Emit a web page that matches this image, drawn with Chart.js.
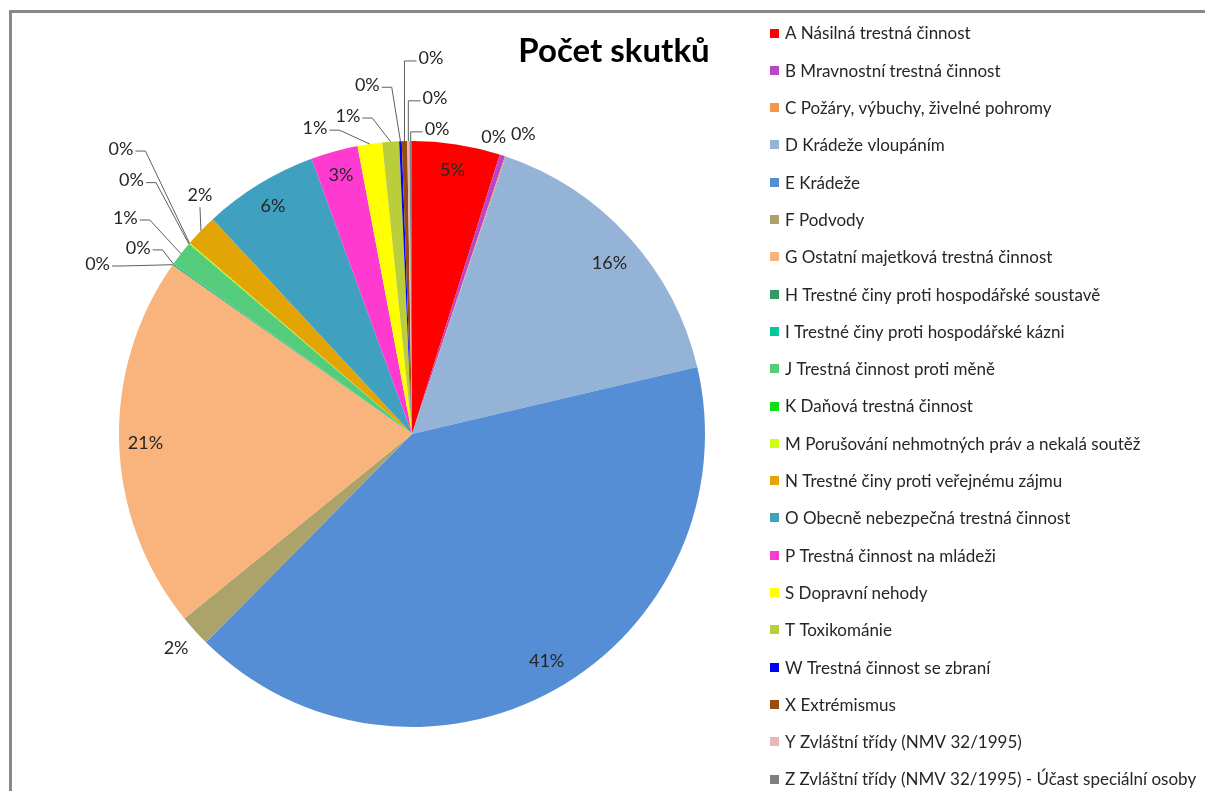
<!DOCTYPE html>
<html lang="cs">
<head>
  <meta charset="UTF-8">
  <title>Počet skutků</title>
  <style>
    html, body {
      margin: 0;
      padding: 0;
      background: #fff;
      overflow: hidden;
    }
    canvas {
      display: block;
    }
  </style>
</head>
<body>
  <canvas id="pie" width="1205" height="791"></canvas>

  <script src="https://cdn.jsdelivr.net/npm/chart.js"></script>
  <script>
    // data
    const chartTitle = 'Počet skutků';

    const categories = [
      'A Násilná trestná činnost',
      'B Mravnostní trestná činnost',
      'C Požáry, výbuchy, živelné pohromy',
      'D Krádeže vloupáním',
      'E Krádeže',
      'F Podvody',
      'G Ostatní majetková trestná činnost',
      'H Trestné činy proti hospodářské soustavě',
      'I Trestné činy proti hospodářské kázni',
      'J Trestná činnost proti měně',
      'K Daňová trestná činnost',
      'M Porušování nehmotných práv a nekalá soutěž',
      'N Trestné činy proti veřejnému zájmu',
      'O Obecně nebezpečná trestná činnost',
      'P Trestná činnost na mládeži',
      'S Dopravní nehody',
      'T Toxikománie',
      'W Trestná činnost se zbraní',
      'X Extrémismus',
      'Y Zvláštní třídy (NMV 32/1995)',
      'Z Zvláštní třídy (NMV 32/1995) - Účast speciální osoby'
    ];

    // estimated counts
    const counts = [486, 30, 5, 1620, 4125, 175, 2070, 5, 5, 133, 5, 5, 180, 636, 260, 136, 93, 14, 30, 12, 14];

    const colors = [
      '#FF0000', '#B847C8', '#F79646', '#95B3D7', '#558ED5', '#ACA36A', '#F9B47E',
      '#339966', '#00C896', '#55CC7C', '#11DD11', '#CCFF11', '#E2A505', '#3FA0C0',
      '#FF3AD0', '#FFFF00', '#BACE3C', '#0000FF', '#994C0F', '#E6B8B7', '#808080'
    ];

    // label placement per slice: a = angle (deg, clockwise from top, null = mid of slice),
    // r = distance as fraction of radius, leader = 'L' | 'R' | 'D' | null
    const labelPlace = [
      { a: null, r: 0.91, leader: null },   // A
      { a: 15.4, r: 1.05, leader: null },   // B
      { a: 20.4, r: 1.09, leader: null },   // C
      { a: 49.2, r: 0.89, leader: null },   // D
      { a: 149.3, r: 0.90, leader: null },  // E
      { a: 227.8, r: 1.087, leader: null }, // F
      { a: null, r: 0.91, leader: null },   // G
      { a: 298.4, r: 1.22, leader: 'L' },   // H
      { a: 304.2, r: 1.13, leader: 'L' },   // I
      { a: 307.0, r: 1.225, leader: 'L' },  // J
      { a: 312.1, r: 1.29, leader: 'L' },   // K
      { a: 314.4, r: 1.39, leader: 'L' },   // M
      { a: 318.4, r: 1.09, leader: 'D' },   // N
      { a: null, r: 0.91, leader: null },   // O
      { a: null, r: 0.915, leader: null },  // P
      { a: 342.4, r: 1.095, leader: 'L' },  // S
      { a: 348.6, r: 1.107, leader: 'L' },  // T
      { a: 352.7, r: 1.20, leader: 'L' },   // W
      { a: 2.9, r: 1.285, leader: 'R' },    // X
      { a: 3.9, r: 1.15, leader: 'R' },     // Y
      { a: 4.7, r: 1.045, leader: 'R' }     // Z
    ];

    const FONT = 'Lato, "Open Sans", sans-serif';

    // grey frame, top and left edge only
    const frame = {
      id: 'frame',
      beforeDraw(chart) {
        const ctx = chart.ctx;
        ctx.save();
        ctx.fillStyle = '#898989';
        ctx.fillRect(9, 10, chart.width - 9, 3);
        ctx.fillRect(9, 10, 3, chart.height - 10);
        ctx.restore();
      }
    };

    // percent labels + leader lines
    const pieLabels = {
      id: 'pieLabels',
      afterDatasetsDraw(chart) {
        const ctx = chart.ctx;
        const meta = chart.getDatasetMeta(0);
        const vals = chart.data.datasets[0].data;
        const total = vals.reduce((s, v) => s + v, 0);
        ctx.save();
        ctx.font = '18px ' + FONT;
        ctx.textAlign = 'center';
        ctx.textBaseline = 'middle';
        meta.data.forEach((arc, i) => {
          const p = arc.getProps(['x', 'y', 'startAngle', 'endAngle', 'outerRadius'], true);
          const spec = labelPlace[i];
          const mid = (p.startAngle + p.endAngle) / 2;
          const ang = spec.a === null ? mid : (spec.a - 90) * Math.PI / 180;
          const tx = p.x + Math.cos(ang) * p.outerRadius * spec.r;
          const ty = p.y + Math.sin(ang) * p.outerRadius * spec.r;
          const txt = Math.round(vals[i] / total * 100) + '%';
          const w = ctx.measureText(txt).width;

          if (spec.leader) {
            const ex = p.x + Math.cos(mid) * p.outerRadius;
            const ey = p.y + Math.sin(mid) * p.outerRadius;
            ctx.strokeStyle = '#5f5f5f';
            ctx.lineWidth = 1;
            ctx.beginPath();
            if (spec.leader === 'L') {
              const sx = tx + w / 2 + 2, sy = ty + 2;
              ctx.moveTo(sx, sy);
              ctx.lineTo(sx + 10, sy);
              ctx.lineTo(ex, ey);
            } else if (spec.leader === 'R') {
              const sx = tx - w / 2 - 2, sy = ty + 3;
              ctx.moveTo(sx, sy);
              ctx.lineTo(ex, sy);
              ctx.lineTo(ex, ey);
            } else {
              ctx.moveTo(tx, ty + 12);
              ctx.lineTo(ex, ey);
            }
            ctx.stroke();
          }
          ctx.fillStyle = '#262626';
          ctx.fillText(txt, tx, ty);
        });
        ctx.restore();
      }
    };

    // title and legend drawn at fixed spots like the original
    const sideBits = {
      id: 'sideBits',
      afterDraw(chart) {
        const ctx = chart.ctx;
        ctx.save();
        ctx.fillStyle = '#000';
        ctx.font = 'bold 33px ' + FONT;
        ctx.textAlign = 'center';
        ctx.textBaseline = 'middle';
        ctx.fillText(chartTitle, 614, 51);

        ctx.font = '17px ' + FONT;
        ctx.textAlign = 'left';
        chart.data.labels.forEach((lab, i) => {
          const y = 33 + i * 37.3;
          ctx.fillStyle = chart.data.datasets[0].backgroundColor[i];
          ctx.fillRect(770, Math.round(y - 4.5), 9, 9);
          ctx.fillStyle = '#262626';
          ctx.fillText(lab, 785, y + 1);
        });
        ctx.restore();
      }
    };

    new Chart(document.getElementById('pie'), {
      type: 'pie',
      data: {
        labels: categories,
        datasets: [{
          data: counts,
          backgroundColor: colors,
          borderWidth: 0
        }]
      },
      options: {
        responsive: false,
        animation: false,
        layout: {
          padding: { left: 119, right: 500, top: 141, bottom: 64 }
        },
        plugins: {
          legend: { display: false },
          title: { display: false },
          tooltip: { enabled: false }
        }
      },
      plugins: [frame, pieLabels, sideBits]
    });
  </script>
</body>
</html>
